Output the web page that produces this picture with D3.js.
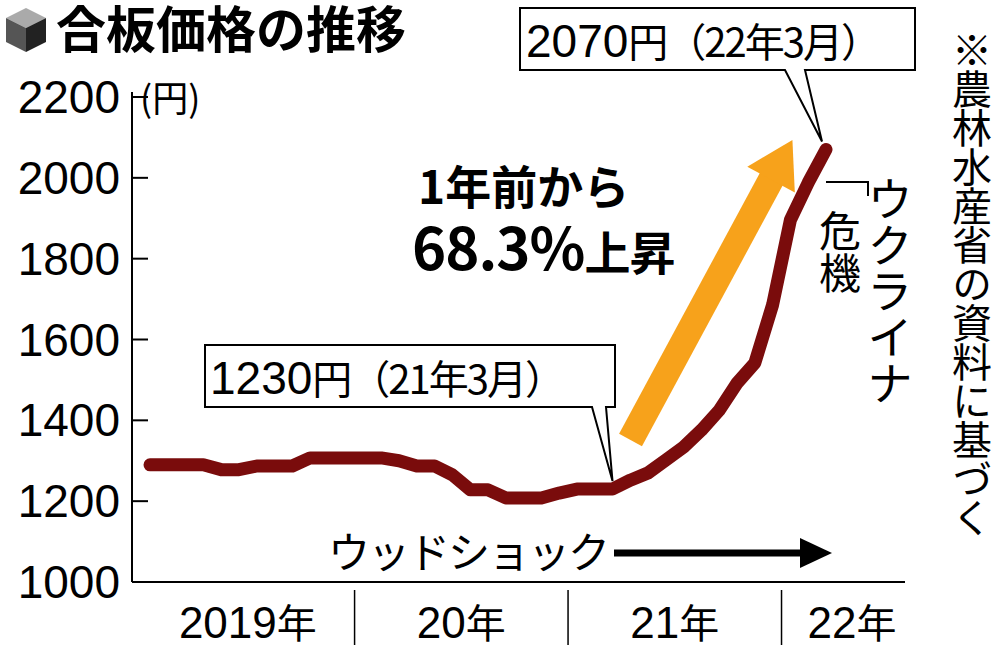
<!DOCTYPE html><html><head><meta charset="utf-8"><script src="https://cdn.jsdelivr.net/npm/d3@7"></script>
<style>body{margin:0;background:#fff}text{font-family:"Noto Sans CJK JP","Liberation Sans Narrow",sans-serif}</style></head><body>
<svg id="c" width="1000" height="649"></svg>
<script>
const months = d3.range(39); // Jan 2019 .. Mar 2022
const prices = [1290,1290,1290,1290,1278,1278,1287,1287,1287,1307,1307,1307,1307,1307,1300,1287,1287,1265,1228,1228,1208,1208,1208,1220,1230,1230,1230,1252,1270,1302,1334,1376,1425,1492,1542,1686,1896,1988,2070];
const yTicks = [1000,1200,1400,1600,1800,2000,2200];
const years = [{label:"2019年",s:0,e:12},{label:"20年",s:12,e:24},{label:"21年",s:24,e:36},{label:"22年",s:36,e:42}];
const svg = d3.select("#c");
const x = d3.scaleLinear().domain([0,38]).range([150,826]);
const y = d3.scaleLinear().domain([1000,2200]).range([582,97]);
const num = '"Liberation Sans Narrow","Liberation Sans",sans-serif';
svg.append("line").attr("x1",132).attr("x2",132).attr("y1",92).attr("y2",582).attr("stroke","#000").attr("stroke-width",2);
svg.append("line").attr("x1",132).attr("x2",905).attr("y1",582).attr("y2",582).attr("stroke","#000").attr("stroke-width",2);
yTicks.forEach(t=>{
  svg.append("line").attr("x1",132).attr("x2",148).attr("y1",y(t)).attr("y2",y(t)).attr("stroke","#000").attr("stroke-width",2);
  svg.append("text").attr("x",120).attr("y",y(t)+16).attr("text-anchor","end").attr("font-size",46).style("font-family",num).text(t);
});
svg.append("text").attr("x",140).attr("y",112).attr("font-size",36).text("(円)");
const xb = i=>x(i)-x(0.5)+x(0);
years.forEach((yr,k)=>{
  if(k>0) svg.append("line").attr("x1",xb(yr.s)).attr("x2",xb(yr.s)).attr("y1",590).attr("y2",645).attr("stroke","#000").attr("stroke-width",1.5);
  const cx = k==3? 852 : (xb(yr.s)+xb(yr.e))/2;
  svg.append("text").attr("x",cx).attr("y",638).attr("text-anchor","middle").attr("font-size",44).style("font-family",num).text(yr.label.replace("年",""))
    .append("tspan").style("font-family",'"Noto Sans CJK JP"').attr("font-size",40).text("年");
});
const a0=[x(26)+18,440], a1=[x(36)+2,140];
const ang=Math.atan2(a1[1]-a0[1],a1[0]-a0[0]);
svg.append("line").attr("x1",a0[0]).attr("y1",a0[1]).attr("x2",a1[0]-Math.cos(ang)*35).attr("y2",a1[1]-Math.sin(ang)*35).attr("stroke","#f7a21b").attr("stroke-width",26);
const px=-Math.sin(ang), py=Math.cos(ang);
const hb=[a1[0]-Math.cos(ang)*45,a1[1]-Math.sin(ang)*45];
svg.append("polygon").attr("fill","#f7a21b").attr("points",[a1,[hb[0]+px*27,hb[1]+py*27],[hb[0]-px*27,hb[1]-py*27]].map(p=>p.join(",")).join(" "));
svg.append("path").datum(prices).attr("fill","none").attr("stroke","#7a0c0c").attr("stroke-width",13).attr("stroke-linejoin","round").attr("stroke-linecap","round")
  .attr("d",d3.line().x((d,i)=>x(months[i])).y(d=>y(d)));
function callout(bx,by,bw,bh,t1,t2,ax,ay){
  svg.append("path").attr("d",`M${bx},${by}H${bx+bw}V${by+bh}H${t2}L${ax},${ay}L${t1},${by+bh}H${bx}Z`).attr("fill","#fff").attr("stroke","#000").attr("stroke-width",2);
}
callout(205,345,410,62,592,606,x(26),y(1230)-8);
svg.append("text").attr("x",210).attr("y",394).attr("font-size",46).style("font-family",num).text("1230").append("tspan").style("font-family",'"Noto Sans CJK JP"').attr("font-size",40).attr("letter-spacing",-2).text("円（21年3月）");
callout(520,8,395,62,785,805,x(38)-4,y(2070)-8);
svg.append("text").attr("x",526).attr("y",57).attr("font-size",46).style("font-family",num).text("2070").append("tspan").style("font-family",'"Noto Sans CJK JP"').attr("font-size",40).attr("letter-spacing",-2).text("円（22年3月）");
svg.append("text").attr("x",418).attr("y",204).attr("font-size",46).attr("font-weight","bold").text("1年前から");
svg.append("text").attr("x",412).attr("y",270).attr("font-size",58).attr("font-weight","bold").attr("letter-spacing",-1).text("68.3%").append("tspan").attr("font-size",46).text("上昇");
const cube = svg.append("g").attr("transform","translate(6,8)");
cube.append("polygon").attr("points","20,0 40,10 20,20 0,10").attr("fill","#aaa");
cube.append("polygon").attr("points","0,10 20,20 20,44 0,34").attr("fill","#555");
cube.append("polygon").attr("points","40,10 20,20 20,44 40,34").attr("fill","#222");
svg.append("text").attr("x",56).attr("y",48).attr("font-size",50).attr("font-weight","bold").text("合板価格の推移");
svg.append("path").attr("d","M826,182H868V196").attr("fill","none").attr("stroke","#000").attr("stroke-width",2);
svg.append("text").attr("x",890).attr("y",176).attr("font-size",46).style("writing-mode","vertical-rl").text("ウクライナ");
svg.append("text").attr("x",840).attr("y",210).attr("font-size",42).style("writing-mode","vertical-rl").text("危機");
svg.append("text").attr("x",972).attr("y",30).attr("font-size",40).attr("letter-spacing",-1).style("writing-mode","vertical-rl").text("※農林水産省の資料に基づく");
svg.append("text").attr("x",328).attr("y",568).attr("font-size",42).attr("letter-spacing",-2).text("ウッドショック");
svg.append("line").attr("x1",614).attr("x2",808).attr("y1",553).attr("y2",553).attr("stroke","#000").attr("stroke-width",7);
svg.append("polygon").attr("points","832,553 800,538 800,568").attr("fill","#000");
</script></body></html>
